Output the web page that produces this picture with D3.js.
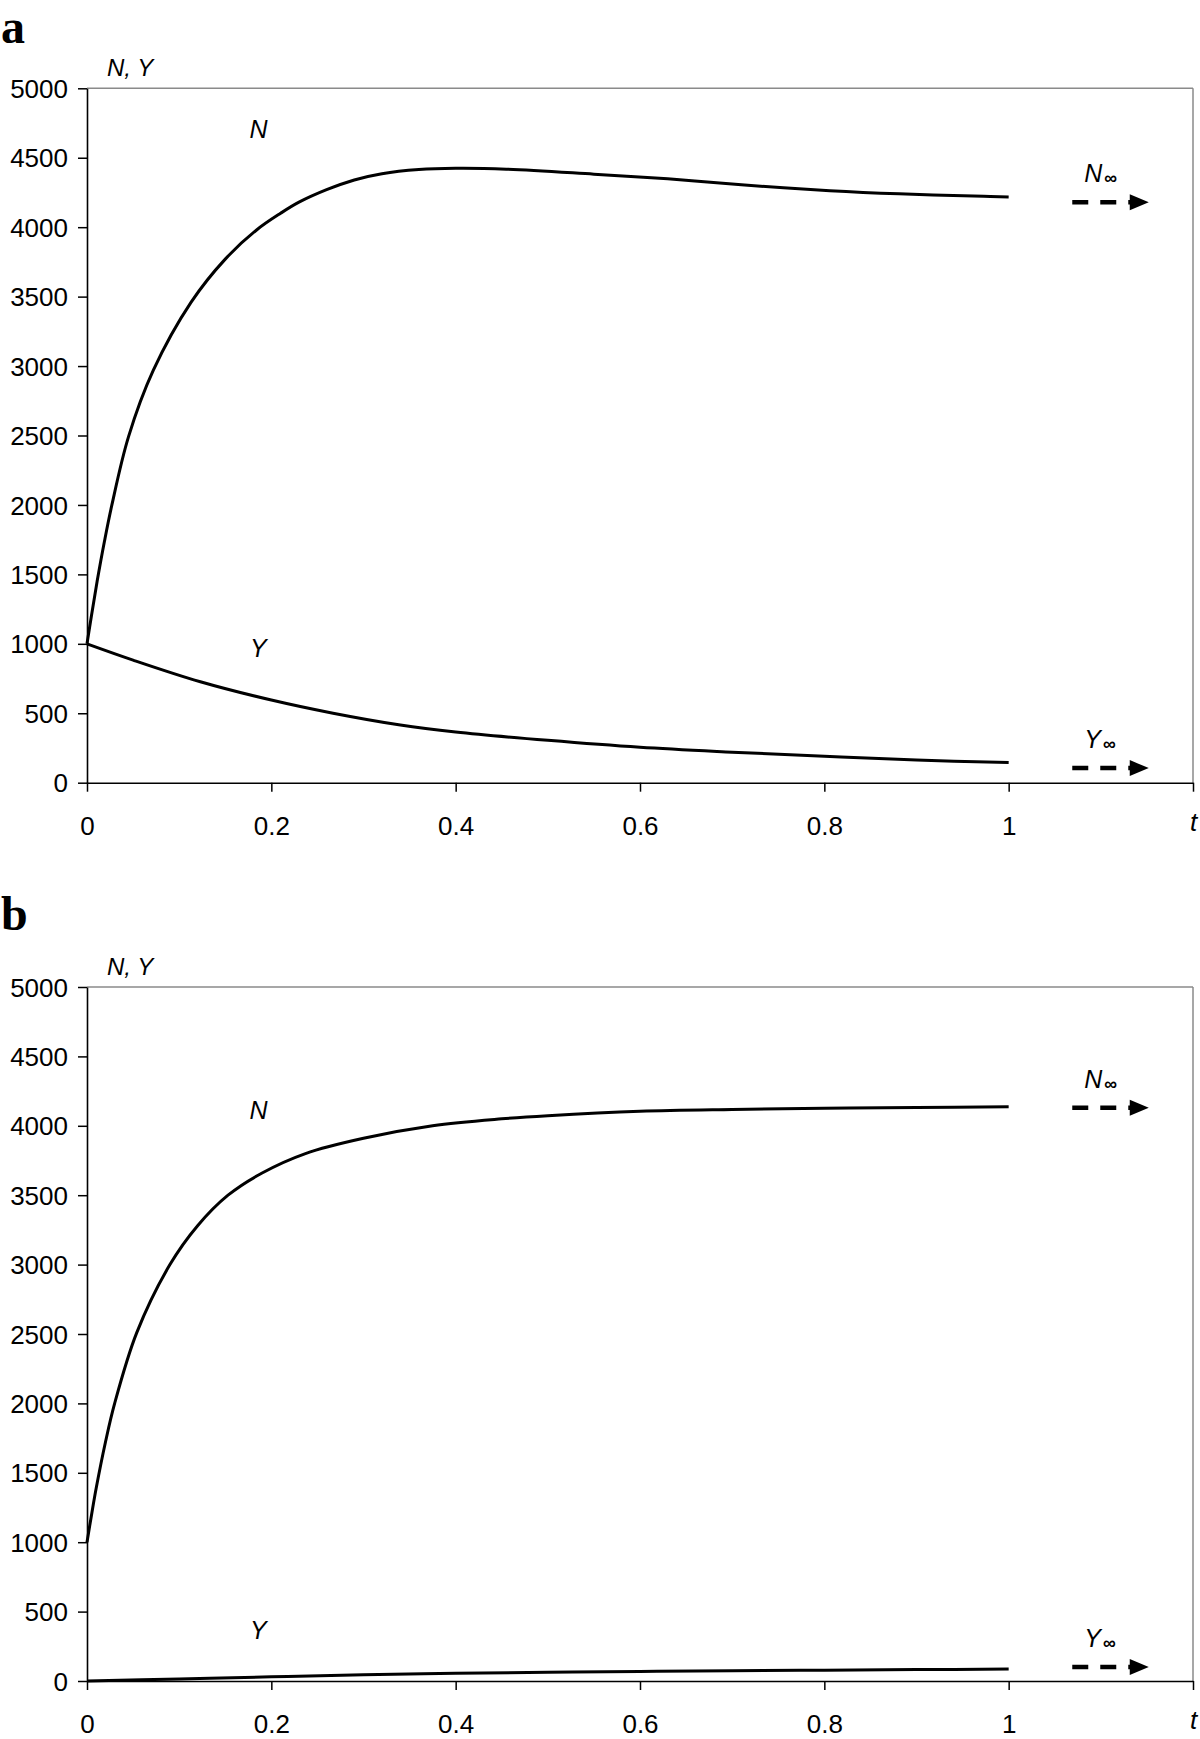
<!DOCTYPE html>
<html>
<head>
<meta charset="utf-8">
<script src="https://cdn.jsdelivr.net/npm/d3@7"></script>
<style>
  html, body { margin: 0; padding: 0; background: #fff; }
  svg { display: block; }
</style>
</head>
<body>
<svg id="chart" width="1200" height="1739"></svg>
<script>
// ---------------- data ----------------
const xTicks = [0, 0.2, 0.4, 0.6, 0.8, 1, 1.2];
const xTickLabels = ["0", "0.2", "0.4", "0.6", "0.8", "1", "t"];
const yTicks = [0, 500, 1000, 1500, 2000, 2500, 3000, 3500, 4000, 4500, 5000];
const yTickLabels = ["0", "500", "1000", "1500", "2000", "2500", "3000", "3500", "4000", "4500", "5000"];
const panelLetters = ["a", "b"];

// panel a
const tA_N = [0, 0.005, 0.011, 0.019, 0.027, 0.045, 0.072, 0.113, 0.150, 0.184, 0.21, 0.23, 0.26, 0.29, 0.32, 0.36, 0.40, 0.455, 0.55, 0.63, 0.71, 0.806, 0.881, 0.973, 1.0];
const nA   = [1000, 1210, 1450, 1740, 2000, 2490, 2970, 3460, 3770, 3980, 4100, 4180, 4270, 4340, 4385, 4415, 4424, 4418, 4382, 4348, 4305, 4263, 4240, 4222, 4218];
const tA_Y = [0, 0.05, 0.123, 0.2, 0.267, 0.34, 0.4, 0.5, 0.6, 0.7, 0.8, 0.9, 1.0];
const yA   = [1000, 883, 727, 595, 500, 415, 365, 305, 255, 220, 190, 163, 145];
const asymA = [4180, 105];   // N-infinity, Y-infinity arrow levels

// panel b
const tB_N = [0, 0.005, 0.01, 0.02, 0.03, 0.054, 0.09, 0.12, 0.153, 0.19, 0.237, 0.30, 0.375, 0.45, 0.5, 0.6, 0.7, 0.8, 0.9, 1.0];
const nB   = [1000, 1200, 1390, 1720, 2000, 2510, 3000, 3280, 3500, 3660, 3800, 3910, 4000, 4050, 4073, 4105, 4118, 4126, 4132, 4137];
const tB_Y = [0, 0.1, 0.2, 0.3, 0.4, 0.5, 0.6, 0.7, 0.8, 0.9, 1.0];
const yB   = [0, 15, 30, 45, 55, 63, 69, 74, 78, 82, 86];
const asymB = [4130, 100];

const arrowT = [1.069, 1.152];
const curveLabelT = 0.186;
const curveLabelsA = [4642, 905];  // N, Y label levels
const curveLabelsB = [4050, 300];

// ---------------- layout ----------------
const SANS = '"Liberation Sans", Arial, sans-serif';
const SERIF = '"Liberation Serif", "Times New Roman", serif';
const svg = d3.select("#chart");
const left = 87, right = 1193;
const panels = [
  { top: 88.3, bottom: 782.7, letterY: 43, tN: tA_N, N: nA, tY: tA_Y, Y: yA, asym: asymA, lab: curveLabelsA },
  { top: 987, bottom: 1681, letterY: 930, tN: tB_N, N: nB, tY: tB_Y, Y: yB, asym: asymB, lab: curveLabelsB }
];

panels.forEach((p, i) => {
  const g = svg.append("g");
  const x = d3.scaleLinear().domain([0, 1.2]).range([left, right]);
  const y = d3.scaleLinear().domain([0, 5000]).range([p.bottom, p.top]);

  // frame (top & right grey)
  g.append("line").attr("x1", left).attr("x2", right).attr("y1", p.top).attr("y2", p.top)
    .attr("stroke", "#8a8a8a").attr("stroke-width", 1.5);
  g.append("line").attr("x1", right).attr("x2", right).attr("y1", p.top).attr("y2", p.bottom)
    .attr("stroke", "#8a8a8a").attr("stroke-width", 1.5);

  // y axis
  const ya = g.append("g").attr("transform", `translate(${left},0)`)
    .call(d3.axisLeft(y).tickValues(yTicks).tickSize(9).tickSizeOuter(0).tickPadding(10)
      .tickFormat((d, k) => yTickLabels[k]));
  ya.select(".domain").attr("stroke", "#000").attr("stroke-width", 1.6);
  ya.selectAll(".tick line").attr("stroke", "#000").attr("stroke-width", 1.5);
  ya.selectAll(".tick text").style("font-size", "26px").style("font-family", SANS)
    .attr("fill", "#000").attr("dy", "0.35em");

  // x axis
  const xa = g.append("g").attr("transform", `translate(0,${p.bottom})`)
    .call(d3.axisBottom(x).tickValues(xTicks).tickSize(9).tickSizeOuter(0)
      .tickFormat((d, k) => xTickLabels[k]));
  xa.select(".domain").attr("stroke", "#000").attr("stroke-width", 1.6);
  xa.selectAll(".tick line").attr("stroke", "#000").attr("stroke-width", 1.5);
  xa.selectAll(".tick text").style("font-size", "26px").style("font-family", SANS)
    .attr("fill", "#000").attr("y", 52)
    .style("font-style", (d, k) => xTickLabels[k] === "t" ? "italic" : "normal")
    .attr("dy", (d, k) => xTickLabels[k] === "t" ? -4 : 0);

  // panel letter
  g.append("text").attr("x", 1).attr("y", p.letterY).text(panelLetters[i])
    .style("font-family", SERIF).style("font-weight", "bold").style("font-size", "48px");

  // axis title
  g.append("text").attr("x", 107).attr("y", p.top - 12).text("N, Y")
    .style("font-family", SANS).style("font-style", "italic").style("font-size", "24px");

  // curves
  const line = d3.line().x(d => x(d[0])).y(d => y(d[1])).curve(d3.curveCatmullRom.alpha(0.5));
  g.append("path").datum(p.tN.map((t, k) => [t, p.N[k]]))
    .attr("d", line).attr("fill", "none").attr("stroke", "#000").attr("stroke-width", 3);
  g.append("path").datum(p.tY.map((t, k) => [t, p.Y[k]]))
    .attr("d", line).attr("fill", "none").attr("stroke", "#000").attr("stroke-width", 3);

  // curve labels
  ["N", "Y"].forEach((s, k) => {
    g.append("text").attr("x", x(curveLabelT)).attr("y", y(p.lab[k])).text(s)
      .attr("text-anchor", "middle")
      .style("font-family", SANS).style("font-style", "italic").style("font-size", "25px");
  });

  // asymptote arrows
  ["N", "Y"].forEach((s, k) => {
    const yy = y(p.asym[k]);
    const x0 = x(arrowT[0]), x1 = x(arrowT[1]);
    g.append("line").attr("x1", x0).attr("x2", x1 - 18).attr("y1", yy).attr("y2", yy)
      .attr("stroke", "#000").attr("stroke-width", 4.5).attr("stroke-dasharray", "16,12");
    g.append("path")
      .attr("d", `M${x1 - 19},${yy - 8}L${x1},${yy}L${x1 - 19},${yy + 8}Z`)
      .attr("fill", "#000");
    const t = g.append("text").attr("x", x0 + 12).attr("y", yy - 20)
      .style("font-family", SANS).style("font-size", "25px");
    t.append("tspan").style("font-style", "italic").text(s);
    t.append("tspan").style("font-size", "18px").style("font-weight", "bold")
      .attr("dx", 2).attr("dy", 2).text("∞");
  });
});
</script>
</body>
</html>
